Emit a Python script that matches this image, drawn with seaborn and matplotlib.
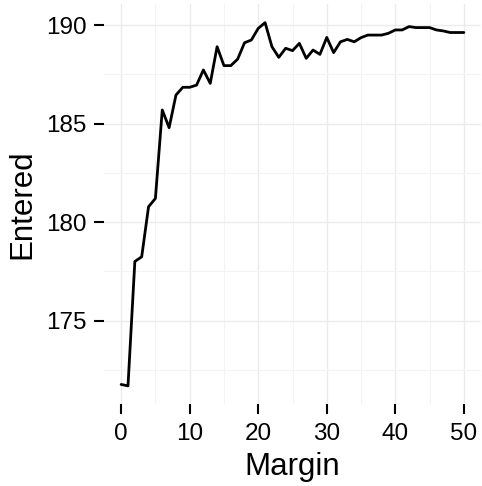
import numpy as np
import pandas as pd
import seaborn as sns
import matplotlib
matplotlib.use("Agg")
import matplotlib.pyplot as plt
from matplotlib.ticker import MultipleLocator

margin = list(range(0, 51))
entered = [
    171.76, 171.69, 178.0, 178.24, 180.78, 181.2, 185.69, 184.79, 186.45, 186.84,
    186.84, 186.95, 187.72, 187.04, 188.9, 187.94, 187.94, 188.27, 189.1, 189.24,
    189.83, 190.12, 188.9, 188.36, 188.82, 188.7, 189.07, 188.31, 188.73, 188.51,
    189.37, 188.6, 189.15, 189.27, 189.15, 189.36, 189.49, 189.49, 189.49, 189.58,
    189.75, 189.75, 189.92, 189.87, 189.87, 189.87, 189.75, 189.7, 189.62, 189.62,
    189.62,
]
x_ticks = [0, 10, 20, 30, 40, 50]
y_ticks = [175, 180, 185, 190]

df = pd.DataFrame({"Margin": margin, "Entered": entered})

sns.set_theme(style="white")
plt.rcParams["font.family"] = ["Liberation Sans", "DejaVu Sans"]

fig = plt.figure(figsize=(4.82, 4.86), dpi=100)
ax = fig.add_axes([104 / 482, 82 / 486, 377 / 482, 399.5 / 486])

sns.lineplot(data=df, x="Margin", y="Entered", color="black", linewidth=2.0, ax=ax)

# 5% padding around the data range on both axes
xr = max(margin) - min(margin)
yr = max(entered) - min(entered)
ax.set_xlim(min(margin) - 0.05 * xr, max(margin) + 0.05 * xr)
ax.set_ylim(min(entered) - 0.05 * yr, max(entered) + 0.05 * yr)

ax.set_xticks(x_ticks)
ax.set_yticks(y_ticks)
ax.xaxis.set_minor_locator(MultipleLocator(5))
ax.yaxis.set_minor_locator(MultipleLocator(2.5))

ax.grid(which="major", color="#ebebeb", linewidth=1.0)
ax.grid(which="minor", color="#f3f3f3", linewidth=0.8)
ax.set_axisbelow(True)

for s in ax.spines.values():
    s.set_visible(False)

ax.tick_params(which="major", direction="out", length=7.5, width=1.5,
               color="black", labelsize=17.5, labelcolor="black",
               bottom=True, left=True)
ax.tick_params(axis="x", which="major", pad=6)
ax.tick_params(axis="y", which="major", pad=5)
ax.tick_params(which="minor", length=0)

ax.set_xlabel("Margin", fontsize=22.5, color="black", labelpad=5)
ax.set_ylabel("Entered", fontsize=22.5, color="black", labelpad=6)

fig.savefig("out.png", dpi=100, facecolor="white")
